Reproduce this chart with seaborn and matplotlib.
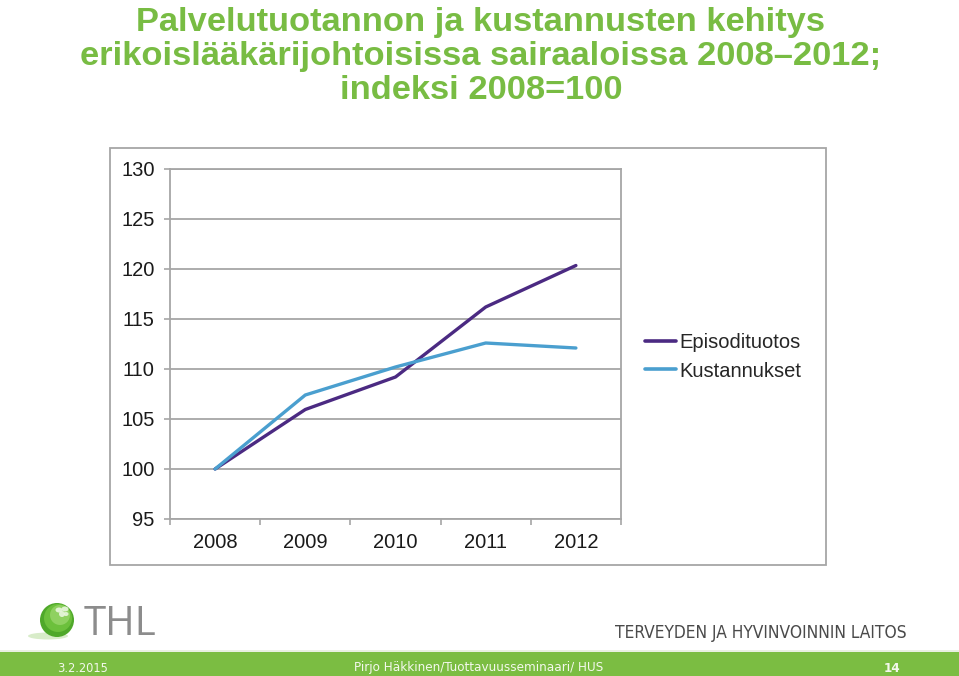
import matplotlib
matplotlib.use("Agg")
import matplotlib.pyplot as plt
import seaborn as sns
import pandas as pd
from matplotlib.patches import Rectangle, Circle, Ellipse
from matplotlib.lines import Line2D
from matplotlib import font_manager

# ---------------- data ----------------
years = ["2008", "2009", "2010", "2011", "2012"]
episodituotos = [100, 105.95, 109.2, 116.2, 120.35]
kustannukset = [100, 107.4, 110.2, 112.6, 112.1]
series_names = ["Episodituotos", "Kustannukset"]
series_colors = ["#4B2A82", "#4A9FCF"]
y_ticks = [95, 100, 105, 110, 115, 120, 125, 130]

title_lines = [
    "Palvelutuotannon ja kustannusten kehitys",
    "erikoislääkärijohtoisissa sairaaloissa 2008–2012;",
    "indeksi 2008=100",
]
footer_date = "3.2.2015"
footer_mid = "Pirjo Häkkinen/Tuottavuusseminaari/ HUS"
footer_page = "14"
org_name = "TERVEYDEN JA HYVINVOINNIN LAITOS"
logo_text = "THL"

df = pd.DataFrame({
    "Vuosi": years * 2,
    "Indeksi": episodituotos + kustannukset,
    "Sarja": [series_names[0]] * len(years) + [series_names[1]] * len(years),
})

# ---------------- style ----------------
sns.set_theme(style="white")
plt.rcParams["font.family"] = ["Liberation Sans", "DejaVu Sans"]

# look for a narrow / condensed face for the footer texts
narrow_family, narrow_stretch = "Liberation Sans", "normal"
for f in font_manager.fontManager.ttflist:
    if "Narrow" in f.name and "Liberation" in f.name:
        narrow_family, narrow_stretch = f.name, "normal"
        break
else:
    for f in font_manager.fontManager.ttflist:
        if f.name == "DejaVu Sans" and "Condensed" in f.fname and "Bold" not in f.fname \
                and "Oblique" not in f.fname:
            narrow_family, narrow_stretch = "DejaVu Sans", "condensed"
            break

W, H = 959, 676
fig = plt.figure(figsize=(W / 100, H / 100), dpi=100)
fig.patch.set_facecolor("white")

# decoration layer in pixel coordinates
deco = fig.add_axes([0, 0, 1, 1], zorder=0)
deco.set_xlim(0, W)
deco.set_ylim(H, 0)
deco.axis("off")

GREEN = "#78BC43"
for txt, base in zip(title_lines, [31, 65, 99]):
    deco.text(481, base, txt, ha="center", va="baseline", fontsize=24.8,
              fontweight="bold", color=GREEN, family=["Liberation Sans", "DejaVu Sans"])

# chart box
deco.add_patch(Rectangle((110, 148), 716, 417, facecolor="white",
                         edgecolor="#A6A6A6", linewidth=1.3))

# footer band
deco.add_patch(Rectangle((0, 652), W, 24, facecolor="#7BBD42", edgecolor="none"))
deco.plot([0, W], [650.5, 650.5], color="#E4EEDC", linewidth=1.2)
fcol = "#F3F8EC"
t1 = deco.text(83, 668, footer_date, ha="center", va="center", fontsize=12,
               color=fcol, family=narrow_family, fontstretch=narrow_stretch)
t2 = deco.text(479, 668, footer_mid, ha="center", va="center", fontsize=12,
               color=fcol, family=narrow_family, fontstretch=narrow_stretch)
t3 = deco.text(892, 668, footer_page, ha="center", va="center", fontsize=12,
               color=fcol, family=narrow_family, fontstretch=narrow_stretch,
               fontweight="bold")
t4 = deco.text(907, 638, org_name, ha="right", va="baseline", fontsize=12.5,
               color="#4A4A4A", family=narrow_family, fontstretch=narrow_stretch)
fit_texts = [(t2, 248), (t1, 51), (t4, 292)]

# THL logo
deco.add_patch(Ellipse((48, 636), 40, 7, facecolor="#CFE8BC", edgecolor="none", alpha=0.8))
deco.add_patch(Circle((57, 620), 17, facecolor="#4FA82A", edgecolor="none"))
deco.add_patch(Circle((58, 618), 14, facecolor="#6CC03C", edgecolor="none"))
deco.add_patch(Circle((60, 615), 10, facecolor="#8FD161", edgecolor="none"))
for dx, dy, w_, h_ in [(-3, -2, 7, 5), (3, -3, 7, 5), (0, 2, 6, 6), (4, 2, 5, 4)]:
    deco.add_patch(Ellipse((62 + dx, 612 + dy), w_, h_, facecolor="#E9F6DE",
                           edgecolor="none", alpha=0.9))
deco.text(84, 635, logo_text, ha="left", va="baseline", fontsize=29,
          color="#8C8C8C", family=["Open Sans", "DejaVu Sans"])

# ---------------- plot ----------------
ax = fig.add_axes([170 / W, (H - 519) / H, 451 / W, 350 / H], zorder=1)
ax.set_facecolor("white")
sns.lineplot(data=df, x="Vuosi", y="Indeksi", hue="Sarja", hue_order=series_names,
             palette=series_colors, linewidth=2.4, ax=ax, legend=False, sort=False)

ax.set_xlim(-0.5, len(years) - 0.5)
ax.set_ylim(y_ticks[0], y_ticks[-1])
ax.set_yticks(y_ticks)
ax.set_yticklabels([str(v) for v in y_ticks])
ax.set_xticks(range(len(years)))
ax.set_xticklabels(years)
ax.set_xticks([i - 0.5 for i in range(len(years) + 1)], minor=True)
ax.set_xlabel("")
ax.set_ylabel("")

gcol = "#A6A6A6"
ax.yaxis.grid(True, color=gcol, linewidth=1.3)
ax.xaxis.grid(False)
ax.set_axisbelow(True)
for s in ax.spines.values():
    s.set_visible(True)
    s.set_color(gcol)
    s.set_linewidth(1.3)

ax.tick_params(axis="y", which="major", left=True, length=4, width=1.2, color=gcol,
               pad=7, labelsize=14.5, labelcolor="#1A1A1A")
ax.tick_params(axis="x", which="major", bottom=False, length=0, pad=10,
               labelsize=14.5, labelcolor="#1A1A1A")
ax.tick_params(axis="x", which="minor", bottom=True, length=4, width=1.2, color=gcol)

# legend
handles = [Line2D([0], [0], color=c, linewidth=2.6) for c in series_colors]
fig.legend(handles, series_names, loc="center left",
           bbox_to_anchor=(645 / W, (H - 357) / H), frameon=False,
           fontsize=14.5, handlelength=1.55, handletextpad=0.15,
           labelspacing=0.45, borderpad=0, borderaxespad=0)

# fit footer texts to their widths in the slide
fig.canvas.draw()
r = fig.canvas.get_renderer()
for t, target in fit_texts:
    bb = t.get_window_extent(renderer=r)
    t.set_fontsize(t.get_fontsize() * target / bb.width)
t3.set_fontsize(t2.get_fontsize())

fig.savefig("out.png", dpi=100)
